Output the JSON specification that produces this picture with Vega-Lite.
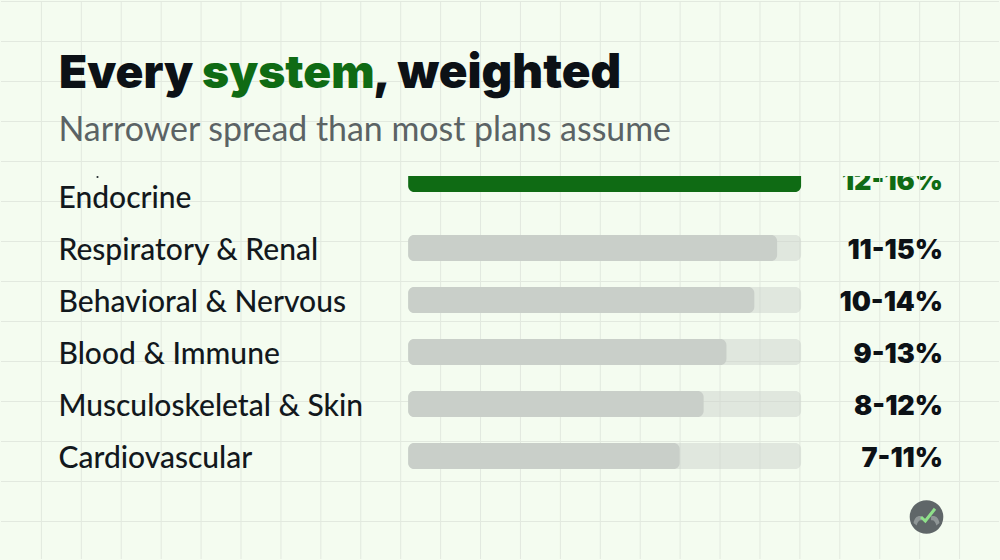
{
"$schema":"https://vega.github.io/schema/vega-lite/v6.json",
"width":1000,"height":560,
"autosize":{"type":"fit","contains":"padding"},
"padding":0,
"background":"#f4fcf0",
"config":{"view":{"stroke":null}},
"datasets":{
"rows":[
{"rank":1,"system":"Endocrine","share":100,"track":100,"label":"12-16%"},
{"rank":2,"system":"Respiratory & Renal","share":93.9,"track":100,"label":"11-15%"},
{"rank":3,"system":"Behavioral & Nervous","share":88.1,"track":100,"label":"10-14%"},
{"rank":4,"system":"Blood & Immune","share":81,"track":100,"label":"9-13%"},
{"rank":5,"system":"Musculoskeletal & Skin","share":75.2,"track":100,"label":"8-12%"},
{"rank":6,"system":"Cardiovascular","share":69.1,"track":100,"label":"7-11%"}],
"gridx":[{"g":40},{"g":80},{"g":120},{"g":160},{"g":200},{"g":240},{"g":280},{"g":320},{"g":360},{"g":400},{"g":440},{"g":480},{"g":520},{"g":560},{"g":600},{"g":640},{"g":680},{"g":720},{"g":760},{"g":800},{"g":840},{"g":880},{"g":920},{"g":960}],
"gridy":[{"g":0},{"g":40},{"g":80},{"g":120},{"g":160},{"g":200},{"g":240},{"g":280},{"g":320},{"g":360},{"g":400},{"g":440},{"g":480},{"g":520}]
},
"resolve":{"scale":{"x":"independent","y":"independent"}},
"layer":[
{"data":{"name":"rows"},"transform":[{"filter":"datum.rank==1"}],
 "mark":{"type":"text","align":"right","baseline":"alphabetic","font":"Inter","fontWeight":900,"fontSize":27,"color":"#0f6b14"},
 "encoding":{"x":{"value":942},"y":{"value":189},"text":{"field":"label"}}},
{"data":{"values":[{}]},"mark":{"type":"rect","color":"#f4fcf0"},
 "encoding":{"x":{"value":835},"x2":{"value":950},"y":{"value":160},"y2":{"value":175}}},
{"data":{"name":"gridx"},"mark":{"type":"rule","color":"#e2e9df","strokeWidth":1},
 "encoding":{"x":{"field":"g","type":"quantitative","axis":null,"scale":{"domain":[-0.5,999.5],"zero":false,"nice":false}}}},
{"data":{"name":"gridy"},"mark":{"type":"rule","color":"#e2e9df","strokeWidth":1},
 "encoding":{"y":{"field":"g","type":"quantitative","axis":null,"scale":{"domain":[-0.5,559.5],"range":[0,560],"zero":false,"nice":false}}}},
{"data":{"name":"rows"},"transform":[{"filter":"datum.rank>1"}],
 "mark":{"type":"bar","orient":"horizontal","height":26,"cornerRadius":6,"color":"#ccd1cc","opacity":0.5},
 "encoding":{
  "y":{"field":"rank","type":"quantitative","axis":null,"scale":{"domain":[-2.75,8.019],"range":[0,560],"padding":0,"zero":false,"nice":false}},
  "x":{"field":"track","type":"quantitative","axis":null,"scale":{"domain":[-103.63,150.37],"padding":0,"zero":false,"nice":false}},
  "x2":{"datum":0}}},
{"data":{"name":"rows"},"transform":[{"filter":"datum.rank>1"}],
 "mark":{"type":"bar","orient":"horizontal","height":26,"cornerRadius":6,"color":"#c9cfc9","opacity":1},
 "encoding":{
  "y":{"field":"rank","type":"quantitative","axis":null,"scale":{"domain":[-2.75,8.019],"range":[0,560],"padding":0,"zero":false,"nice":false}},
  "x":{"field":"share","type":"quantitative","axis":null,"scale":{"domain":[-103.63,150.37],"padding":0,"zero":false,"nice":false}},
  "x2":{"datum":0}}},
{"data":{"name":"rows"},"transform":[{"filter":"datum.rank==1"}],
 "mark":{"type":"rect","color":"#0f6b14","cornerRadiusBottomLeft":6,"cornerRadiusBottomRight":6},
 "encoding":{
  "x":{"field":"share","type":"quantitative","axis":null,"scale":{"domain":[-103.63,150.37],"padding":0,"zero":false,"nice":false}},
  "x2":{"datum":0},
  "y":{"value":175},"y2":{"value":191}}},
{"data":{"name":"rows"},
 "mark":{"type":"text","align":"left","baseline":"alphabetic","dy":11.5,"font":"Lato","fontSize":30,"fontWeight":500,"color":"#12181d"},
 "encoding":{"x":{"value":57.5},
  "y":{"field":"rank","type":"quantitative","axis":null,"scale":{"domain":[-2.769,8],"range":[0,560],"zero":false,"nice":false}},
  "text":{"field":"system"}}},
{"data":{"name":"rows"},"transform":[{"filter":"datum.rank>1"}],
 "mark":{"type":"text","align":"right","baseline":"alphabetic","dy":10,"font":"Inter","fontWeight":900,"fontSize":27,"color":"#0c1116"},
 "encoding":{"x":{"value":942},
  "y":{"field":"rank","type":"quantitative","axis":null,"scale":{"domain":[-2.769,8],"range":[0,560],"zero":false,"nice":false}},
  "text":{"field":"label"}}},
{"data":{"values":[{"t":"Every"}]},"mark":{"type":"text","align":"left","baseline":"alphabetic","font":"Inter","fontWeight":900,"fontSize":46,"color":"#0c1116"},
 "encoding":{"x":{"value":58},"y":{"value":87},"text":{"field":"t"}}},
{"data":{"values":[{"t":"system"}]},"mark":{"type":"text","align":"left","baseline":"alphabetic","font":"Inter","fontWeight":900,"fontSize":46,"color":"#0f6b14"},
 "encoding":{"x":{"value":201},"y":{"value":87},"text":{"field":"t"}}},
{"data":{"values":[{"t":", weighted"}]},"mark":{"type":"text","align":"left","baseline":"alphabetic","font":"Inter","fontWeight":900,"fontSize":47.5,"color":"#0c1116"},
 "encoding":{"x":{"value":372},"y":{"value":87},"text":{"field":"t"}}},
{"data":{"values":[{"t":"Narrower spread than most plans assume"}]},"mark":{"type":"text","align":"left","baseline":"alphabetic","font":"Lato","fontSize":33.9,"color":"#5b6365"},
 "encoding":{"x":{"value":57.5},"y":{"value":140},"text":{"field":"t"}}},
{"data":{"values":[{}]},"mark":{"type":"point","shape":"square","filled":true,"size":3,"opacity":1,"color":"#12181d"},
 "encoding":{"x":{"value":96.5},"y":{"value":176}}},
{"data":{"values":[{}]},"mark":{"type":"point","shape":"circle","filled":true,"size":1130,"opacity":1,"color":"#5f6668"},
 "encoding":{"x":{"value":925.5},"y":{"value":516}}},
{"data":{"values":[{}]},"mark":{"type":"point","shape":"M-1 0.3C-0.9 -0.2 -0.6 -0.3 -0.35 -0.2L-0.35 0.1C-0.55 0.05 -0.7 0.2 -0.75 0.5ZM1 0.3C0.9 -0.2 0.6 -0.3 0.35 -0.2L0.35 0.1C0.55 0.05 0.7 0.2 0.75 0.5Z","filled":true,"size":676,"opacity":1,"color":"#8f9696"},
 "encoding":{"x":{"value":925.5},"y":{"value":518}}},
{"data":{"values":[{}]},"mark":{"type":"point","shape":"M-0.93 0.27L-0.36 0.8L0.93 -0.84","filled":false,"size":225,"opacity":1,"strokeWidth":3,"color":"#8fe08a"},
 "encoding":{"x":{"value":927},"y":{"value":514}}}
]
}
